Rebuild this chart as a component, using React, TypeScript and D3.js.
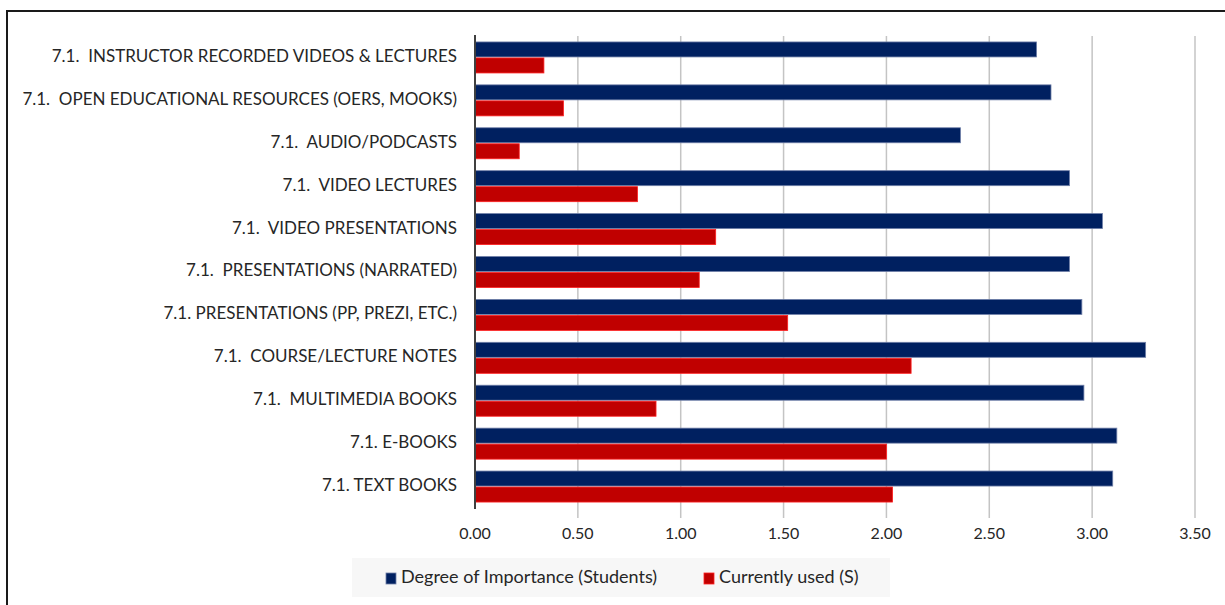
import React, { useEffect, useRef } from 'react';
import * as d3 from 'd3';

const categories = [
  "7.1.  INSTRUCTOR RECORDED VIDEOS & LECTURES",
  "7.1.  OPEN EDUCATIONAL RESOURCES (OERS, MOOKS)",
  "7.1.  AUDIO/PODCASTS",
  "7.1.  VIDEO LECTURES",
  "7.1.  VIDEO PRESENTATIONS",
  "7.1.  PRESENTATIONS (NARRATED)",
  "7.1. PRESENTATIONS (PP, PREZI, ETC.)",
  "7.1.  COURSE/LECTURE NOTES",
  "7.1.  MULTIMEDIA BOOKS",
  "7.1. E-BOOKS",
  "7.1. TEXT BOOKS",
];

const importance = [2.73, 2.80, 2.36, 2.89, 3.05, 2.89, 2.95, 3.26, 2.96, 3.12, 3.10];
const currentlyUsed = [0.335, 0.43, 0.215, 0.79, 1.17, 1.09, 1.52, 2.12, 0.88, 2.00, 2.03];

const seriesNames = ["Degree of Importance (Students)", "Currently used (S)"];
const tickValues = [0, 0.5, 1, 1.5, 2, 2.5, 3, 3.5];

const App = () => {
  const svgRef = useRef<SVGSVGElement>(null);

  useEffect(() => {
    const svg = d3.select(svgRef.current);
    svg.selectAll("*").remove();

    const width = 1225;
    const height = 605;
    const font = "Lato, 'Open Sans', sans-serif";

    const x = d3.scaleLinear().domain([0, 3.5]).range([475, 1195]);
    const y = d3.scaleBand().domain(categories).range([36, 508]).paddingInner(0.254).paddingOuter(0.127);
    const sub = d3.scaleBand().domain(seriesNames).range([0, y.bandwidth()]);
    const color = d3.scaleOrdinal<string>().domain(seriesNames).range(["#002060", "#c00000"]);
    const stroke = d3.scaleOrdinal<string>().domain(seriesNames).range(["#6f7fa8", "#ff2020"]);

    svg.attr("width", width).attr("height", height);

    svg.append("rect")
      .attr("x", 0).attr("y", 0).attr("width", width).attr("height", height)
      .attr("fill", "white");

    // chart frame (clipped at right and bottom in the original)
    svg.append("rect")
      .attr("x", 7).attr("y", 11).attr("width", width + 20).attr("height", height + 20)
      .attr("fill", "none").attr("stroke", "#1a1a1a").attr("stroke-width", 2);

    // gridlines
    svg.append("g")
      .selectAll("line")
      .data(tickValues.slice(1))
      .join("line")
      .attr("x1", d => x(d)).attr("x2", d => x(d))
      .attr("y1", 36).attr("y2", 518)
      .attr("stroke", "#c4c4c4").attr("stroke-width", 1.5);

    // bars
    const rows = categories.map((c, i) => ({ c, vals: [importance[i], currentlyUsed[i]] }));
    const groups = svg.append("g")
      .selectAll("g")
      .data(rows)
      .join("g")
      .attr("transform", d => `translate(0,${y(d.c)})`);

    groups.selectAll("rect")
      .data(d => d.vals.map((v, k) => ({ s: seriesNames[k], v })))
      .join("rect")
      .attr("x", x(0))
      .attr("y", d => (sub(d.s) as number) + 0.5)
      .attr("width", d => x(d.v) - x(0))
      .attr("height", sub.bandwidth() - 1)
      .attr("fill", d => color(d.s))
      .attr("stroke", d => stroke(d.s))
      .attr("stroke-width", 0.8);

    // category labels
    svg.append("g")
      .selectAll("text")
      .data(categories)
      .join("text")
      .attr("x", 457)
      .attr("y", d => (y(d) as number) + y.bandwidth() / 2 - 1.5)
      .attr("dy", "0.35em")
      .attr("text-anchor", "end")
      .attr("xml:space", "preserve")
      .style("white-space", "pre")
      .style("font-family", font)
      .style("font-size", "17px")
      .attr("fill", "#262626")
      .text(d => d);

    // value axis line
    svg.append("line")
      .attr("x1", x(0)).attr("x2", x(0))
      .attr("y1", 35).attr("y2", 509)
      .attr("stroke", "#404040").attr("stroke-width", 2);

    // tick labels
    svg.append("g")
      .selectAll("text")
      .data(tickValues)
      .join("text")
      .attr("x", d => x(d))
      .attr("y", 533)
      .attr("dy", "0.35em")
      .attr("text-anchor", "middle")
      .style("font-family", font)
      .style("font-size", "16px")
      .attr("fill", "#262626")
      .text(d => d3.format(".2f")(d));

    // legend
    const legend = svg.append("g");
    legend.append("rect")
      .attr("x", 352).attr("y", 558).attr("width", 538).attr("height", 39)
      .attr("fill", "#f7f7f7");

    const legendX = [386, 704];
    seriesNames.forEach((s, i) => {
      legend.append("rect")
        .attr("x", legendX[i]).attr("y", 573).attr("width", 10).attr("height", 11)
        .attr("fill", color(s)).attr("stroke", stroke(s)).attr("stroke-width", 0.8);
      legend.append("text")
        .attr("x", legendX[i] + 15).attr("y", 577)
        .attr("dy", "0.35em")
        .style("font-family", font)
        .style("font-size", "18px")
        .attr("fill", "#262626")
        .text(s);
    });
  }, []);

  return (
    <svg ref={svgRef} style={{ position: 'absolute', left: 0, top: 0, display: 'block' }} />
  );
};

export default App;
